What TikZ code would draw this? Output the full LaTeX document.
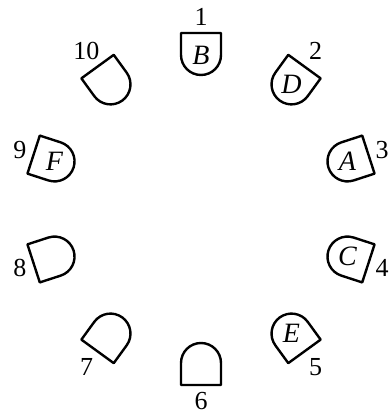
\documentclass[tikz,border=0pt]{standalone}
\usepackage{fontspec}
\setmainfont{Liberation Serif}
\begin{document}
\begin{tikzpicture}[x=0.5pt,y=0.5pt,
  piece/.style={line width=1.2pt, line join=round},
  letter/.style={font=\fontsize{14}{16}\selectfont\itshape, inner sep=0pt},
  num/.style={font=\fontsize{13}{15}\selectfont, inner sep=1.5pt}]
\useasboundingbox (0,0) rectangle (389,416);
\coordinate (O) at (201,207);
\begin{scope}[shift={(201,207)}]
\foreach \i/\a/\t [evaluate=\a as \b using int(\a+180)] in {1/90/B, 2/54/D, 3/18/A, 4/-18/C, 5/-54/E, 6/-90/{}, 7/-126/{}, 8/-162/{}, 9/162/F, 10/126/{}} {
  \begin{scope}[shift={(\a:176)}, rotate=\a-90]
    \draw[piece] (-20,0) -- (20,0) -- (20,-22) arc[start angle=0,end angle=-180,radius=20] -- cycle;
    \node[letter] (L\i) at (0,-22) {\t};
  \end{scope}
  \node[num, anchor=\b] (N\i) at (\a:180) {\i};
}
\end{scope}
\end{tikzpicture}
\end{document}
